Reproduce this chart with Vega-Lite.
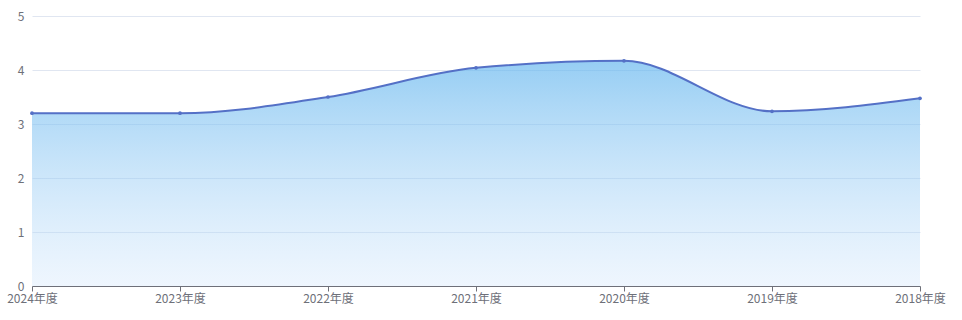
{
  "$schema": "https://vega.github.io/schema/vega-lite/v6.json",
  "autosize": {"type": "none"},
  "width": 888,
  "height": 270,
  "padding": {"left": 32, "top": 16, "right": 42, "bottom": 34},
  "background": "white",
  "config": {
    "view": {"stroke": null},
    "font": "Noto Sans CJK SC"
  },
  "data": {
    "values": [
      {"year": "2024年度", "value": 3.2},
      {"year": "2023年度", "value": 3.2},
      {"year": "2022年度", "value": 3.5},
      {"year": "2021年度", "value": 4.04},
      {"year": "2020年度", "value": 4.17},
      {"year": "2019年度", "value": 3.235},
      {"year": "2018年度", "value": 3.475}
    ]
  },
  "encoding": {
    "x": {
      "field": "year",
      "type": "ordinal",
      "sort": null,
      "scale": {"type": "point", "padding": 0},
      "axis": {
        "title": null,
        "labelAngle": 0,
        "labelFont": "Noto Sans CJK SC",
        "labelFontSize": 12,
        "labelColor": "#6E7079",
        "domainColor": "#6E7079",
        "tickColor": "#6E7079",
        "tickSize": 5,
        "labelPadding": 2,
        "grid": false
      }
    },
    "y": {
      "field": "value",
      "type": "quantitative",
      "scale": {"domain": [0, 5], "nice": false},
      "axis": {
        "title": null,
        "values": [0, 1, 2, 3, 4, 5],
        "labelFont": "Noto Sans CJK SC",
        "labelFontSize": 12,
        "labelColor": "#6E7079",
        "domain": false,
        "ticks": false,
        "labelPadding": 8,
        "gridColor": "#E0E6F1",
        "gridWidth": 1
      }
    }
  },
  "layer": [
    {
      "mark": {
        "type": "area",
        "interpolate": "monotone",
        "color": {
          "gradient": "linear",
          "x1": 0, "y1": 0, "x2": 0, "y2": 1,
          "stops": [
            {"offset": 0, "color": "rgba(100,182,238,0.68)"},
            {"offset": 1, "color": "rgba(200,225,251,0.3)"}
          ]
        }
      }
    },
    {
      "mark": {"type": "line", "interpolate": "monotone", "color": "#5470C6", "strokeWidth": 2}
    },
    {
      "mark": {"type": "point", "filled": true, "color": "#5470C6", "size": 14, "opacity": 1}
    }
  ]
}
